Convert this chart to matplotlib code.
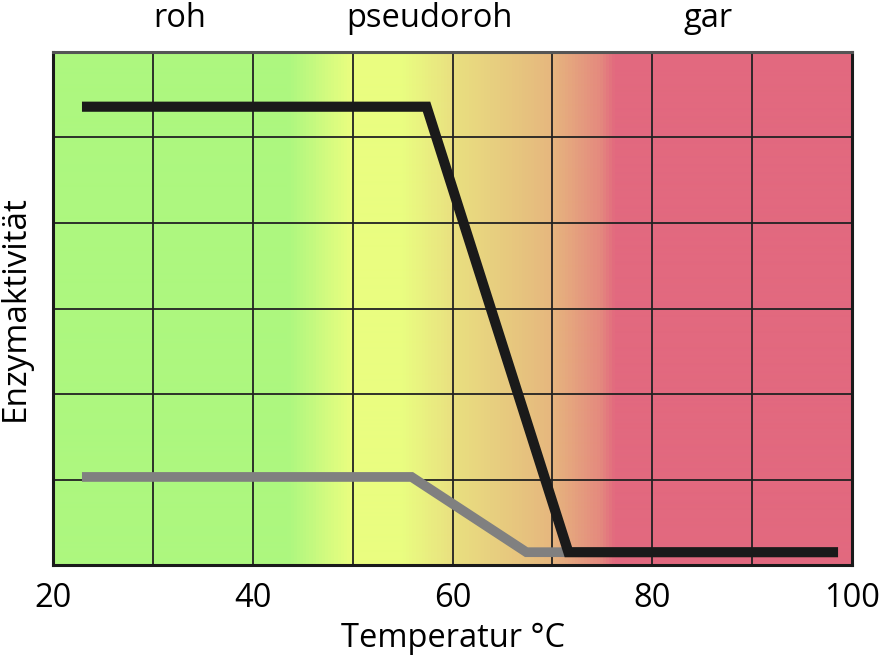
import numpy as np
import matplotlib.pyplot as plt
from matplotlib.colors import LinearSegmentedColormap

plt.rcParams['font.family'] = ['Open Sans', 'DejaVu Sans']

# %% Data
temp_black = [22.9, 57.4, 71.6, 98.6]
act_black = [5.36, 5.36, 0.15, 0.15]
temp_gray = [22.9, 55.9, 67.4, 71.3]
act_gray = [1.03, 1.03, 0.15, 0.15]

zone_labels = ['roh', 'pseudoroh', 'gar']
zone_pos = [32.7, 57.7, 85.6]

# background colour stops (temperature, colour)
bg_stops = [
    (20.0, '#adf77f'), (43.5, '#adf77f'), (49.7, '#eafe80'), (55.0, '#eafd80'),
    (60.0, '#e9e080'), (69.7, '#e6b87e'), (74.8, '#e48a7e'), (76.3, '#e2697f'),
    (100.0, '#e2697f'),
]

xmin, xmax = 20, 100
ymin, ymax = 0, 6

# %% Plot
fig = plt.figure(figsize=(8.88, 6.58), dpi=100)
ax = fig.add_axes([0.0597, 0.1413, 0.8998, 0.7797])

cmap = LinearSegmentedColormap.from_list(
    'bg', [((t - xmin) / (xmax - xmin), c) for t, c in bg_stops])
grad = np.linspace(0, 1, 800).reshape(1, -1)
ax.imshow(grad, cmap=cmap, aspect='auto', extent=[xmin, xmax, ymin, ymax],
          zorder=0, interpolation='bilinear')

for xv in range(30, 100, 10):
    ax.axvline(xv, color='#222222', lw=1.3, zorder=1)
for yv in range(1, 6):
    ax.axhline(yv, color='#222222', lw=1.3, zorder=1)

ax.plot(temp_gray, act_gray, color='#808080', lw=7, solid_joinstyle='miter',
        solid_capstyle='butt', zorder=2)
ax.plot(temp_black, act_black, color='#1a1a1a', lw=7.3, solid_joinstyle='miter',
        solid_capstyle='butt', zorder=3)

ax.set_xlim(xmin, xmax)
ax.set_ylim(ymin, ymax)
ax.set_xticks([20, 40, 60, 80, 100])
ax.set_yticks([])
ax.tick_params(axis='x', length=0, labelsize=23.5, pad=12)
for s in ax.spines.values():
    s.set_linewidth(2.2)
    s.set_color('#1a1a1a')
ax.spines['top'].set_color('#555555')

ax.set_xlabel('Temperatur °C', fontsize=23.5)
ax.xaxis.set_label_coords(0.5, -0.112)
ax.set_ylabel('Enzymaktivität', fontsize=24)
ax.yaxis.set_label_coords(-0.026, 0.5)

for lbl, xp in zip(zone_labels, zone_pos):
    ax.text(xp, 1.065, lbl, transform=ax.get_xaxis_transform(),
            ha='center', va='center', fontsize=23.5)

fig.savefig('out.png', dpi=100)
